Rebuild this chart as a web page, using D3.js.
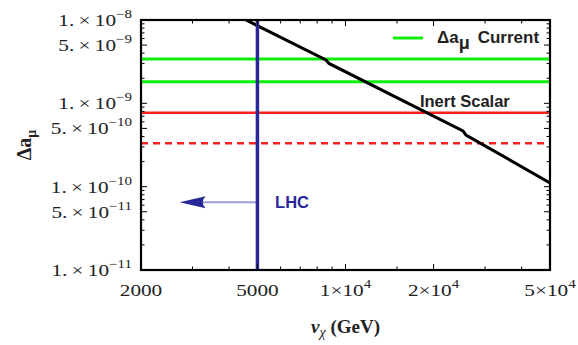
<!DOCTYPE html>
<html>
<head>
<meta charset="utf-8">
<script src="https://cdn.jsdelivr.net/npm/d3@7"></script>
<style>
  body { margin: 0; background: #ffffff; }
  svg { display: block; }
</style>
</head>
<body>
<div id="chart"></div>
<script>
// values
var xTickVals = [2000, 5000, 1e4, 2e4, 5e4];
var xTickMant = ["2000", "5000", "1", "2", "5"];
var xTickExp = [null, null, "4", "4", "4"];
var xMinorVals = [3000, 4000, 6000, 7000, 8000, 9000, 15000, 30000, 40000];

var yTickVals = [1e-8, 5e-9, 1e-9, 5e-10, 1e-10, 5e-11, 1e-11];
var yTickMant = ["1.", "5.", "1.", "5.", "1.", "5.", "1."];
var yTickExp = ["\u22128", "\u22129", "\u22129", "\u221210", "\u221210", "\u221211", "\u221211"];

// black curve (Inert Scalar prediction)
var curveV = [4570, 8576, 8780, 25200, 25800, 50000];
var curveA = [1e-8, 3.31e-9, 3.01e-9, 4.66e-10, 4.17e-10, 1.11e-10];

// horizontal bands
var currentBand = [1.81e-9, 3.41e-9];   // green
var inertSolid = 7.72e-10;              // red solid
var inertDashed = 3.31e-10;             // red dashed

// LHC bound
var lhcBound = 5000;
var lhcArrowTip = 2710;
var lhcArrowA = 6.49e-11;

function createChart() {
    var width = 578, height = 345;
    var margin = { top: 20, right: 28, bottom: 75, left: 141 };
    var w = width - margin.left - margin.right;
    var h = height - margin.top - margin.bottom;

    var svg = d3.select("#chart")
        .html("")
        .append("svg")
        .attr("width", width)
        .attr("height", height);

    var g = svg.append("g")
        .attr("transform", "translate(" + margin.left + "," + margin.top + ")");

    var x = d3.scaleLog().domain([2000, 50000]).range([0, w]);
    var y = d3.scaleLog().domain([1e-11, 1e-8]).range([h, 0]);

    g.append("clipPath").attr("id", "clip")
        .append("rect").attr("width", w).attr("height", h);

    var plot = g.append("g").attr("clip-path", "url(#clip)");

    // green current band lines
    plot.selectAll(".green")
        .data(currentBand)
        .enter().append("line")
        .attr("x1", 0).attr("x2", w)
        .attr("y1", function (d) { return y(d); })
        .attr("y2", function (d) { return y(d); })
        .attr("stroke", "#10ee10")
        .attr("stroke-width", 3);

    // red lines
    plot.append("line")
        .attr("x1", 0).attr("x2", w)
        .attr("y1", y(inertSolid)).attr("y2", y(inertSolid))
        .attr("stroke", "#ff2020").attr("stroke-width", 2.5);
    plot.append("line")
        .attr("x1", 0).attr("x2", w)
        .attr("y1", y(inertDashed)).attr("y2", y(inertDashed))
        .attr("stroke", "#ff2020").attr("stroke-width", 2.5)
        .attr("stroke-dasharray", "7,5");

    // black curve
    var line = d3.line()
        .x(function (d, i) { return x(curveV[i]); })
        .y(function (d) { return y(d); });
    plot.append("path")
        .datum(curveA)
        .attr("d", line)
        .attr("fill", "none")
        .attr("stroke", "#000")
        .attr("stroke-width", 3);

    // LHC arrow
    var navy = "#27279a";
    plot.append("line")
        .attr("x1", x(lhcBound)).attr("x2", x(lhcArrowTip) + 20)
        .attr("y1", y(lhcArrowA)).attr("y2", y(lhcArrowA))
        .attr("stroke", "#9c9cd8").attr("stroke-width", 2);
    var tx = x(lhcArrowTip), ty = y(lhcArrowA);
    plot.append("path")
        .attr("d", "M" + tx + "," + ty +
            " L" + (tx + 26) + "," + (ty - 6) +
            " Q" + (tx + 20) + "," + ty + " " + (tx + 26) + "," + (ty + 6) + " Z")
        .attr("fill", navy);

    // LHC vertical bound
    plot.append("line")
        .attr("x1", x(lhcBound)).attr("x2", x(lhcBound))
        .attr("y1", 0).attr("y2", h)
        .attr("stroke", navy).attr("stroke-width", 3.5);

    g.append("text")
        .attr("x", x(5746)).attr("y", y(lhcArrowA) + 5.5)
        .attr("font-family", "Liberation Sans, Arial, sans-serif")
        .attr("font-weight", "bold").attr("font-size", 16.5)
        .attr("fill", navy)
        .text("LHC");

    g.append("text")
        .attr("x", x(17960)).attr("y", y(9.04e-10))
        .attr("font-family", "Liberation Sans, Arial, sans-serif")
        .attr("font-weight", "bold").attr("font-size", 16.5)
        .attr("fill", "#222")
        .text("Inert Scalar");

    // legend
    var leg = g.append("g").attr("transform", "translate(252,18)");
    leg.append("line")
        .attr("x1", 0).attr("x2", 30).attr("y1", 0).attr("y2", 0)
        .attr("stroke", "#10ee10").attr("stroke-width", 3);
    var lt = leg.append("text")
        .attr("x", 44).attr("y", 5)
        .attr("font-family", "Liberation Sans, Arial, sans-serif")
        .attr("font-weight", "bold").attr("font-size", 17)
        .attr("fill", "#222");
    lt.append("tspan").text("\u0394a");
    lt.append("tspan").attr("dy", 6).attr("font-size", 18).text("\u03bc");
    lt.append("tspan").attr("dy", -6).attr("dx", 8).text("Current");

    // ticks on all four sides
    var yMinor = [];
    [-11, -10, -9].forEach(function (e) {
        for (var m = 2; m <= 9; m++) {
            if (m !== 5) yMinor.push(m * Math.pow(10, e));
        }
    });
    var ticks = g.append("g").attr("stroke", "#000").attr("stroke-width", 1);
    function hTick(val, len) {
        ticks.append("line").attr("x1", 0).attr("x2", len).attr("y1", y(val)).attr("y2", y(val));
        ticks.append("line").attr("x1", w).attr("x2", w - len).attr("y1", y(val)).attr("y2", y(val));
    }
    function vTick(val, len) {
        ticks.append("line").attr("y1", h).attr("y2", h - len).attr("x1", x(val)).attr("x2", x(val));
        ticks.append("line").attr("y1", 0).attr("y2", len).attr("x1", x(val)).attr("x2", x(val));
    }
    yTickVals.forEach(function (v) { hTick(v, 6); });
    yMinor.forEach(function (v) { hTick(v, 3.5); });
    xTickVals.forEach(function (v) { vTick(v, 6); });
    xMinorVals.forEach(function (v) { vTick(v, 3.5); });

    // frame
    g.append("rect")
        .attr("width", w).attr("height", h)
        .attr("fill", "none").attr("stroke", "#000").attr("stroke-width", 2.2);

    // tick labels
    var serif = "Liberation Serif, Times New Roman, serif";
    yTickVals.forEach(function (v, i) {
        var lg = g.append("g")
            .attr("transform", "translate(-9," + (y(v) + 6) + ") scale(1.25,1)");
        var t = lg.append("text")
            .attr("text-anchor", "end")
            .attr("font-family", serif).attr("font-size", 17)
            .attr("fill", "#222");
        t.append("tspan").text(yTickMant[i] + "\u2009\u00d7\u2009" + "10");
        t.append("tspan").attr("dy", -8).attr("font-size", 12).text(yTickExp[i]);
    });
    xTickVals.forEach(function (v, i) {
        var lg = g.append("g")
            .attr("transform", "translate(" + x(v) + "," + (h + 26) + ") scale(1.25,1)");
        var t = lg.append("text")
            .attr("text-anchor", "middle")
            .attr("font-family", serif).attr("font-size", 17)
            .attr("fill", "#222");
        if (xTickExp[i]) {
            t.append("tspan").text(xTickMant[i] + "\u00d7" + "10");
            t.append("tspan").attr("dy", -8).attr("font-size", 12).text(xTickExp[i]);
        } else {
            t.text(xTickMant[i]);
        }
    });

    // axis titles
    var xt = g.append("text")
        .attr("x", w / 2).attr("y", h + 63)
        .attr("text-anchor", "middle")
        .attr("font-family", serif).attr("font-weight", "bold").attr("font-size", 19)
        .attr("fill", "#222");
    xt.append("tspan").attr("font-style", "italic").text("v");
    xt.append("tspan").attr("dy", 4).attr("font-size", 14).attr("font-style", "italic").attr("font-weight", "normal").text("\u03c7");
    xt.append("tspan").attr("dy", -4).text(" (GeV)");

    var yt = g.append("text")
        .attr("transform", "translate(" + (-110) + "," + (h / 2) + ") rotate(-90)")
        .attr("text-anchor", "middle")
        .attr("font-family", serif).attr("font-weight", "bold").attr("font-size", 20)
        .attr("fill", "#222");
    yt.append("tspan").text("\u0394a");
    yt.append("tspan").attr("dy", 5).attr("font-size", 14).text("\u03bc");
}

createChart();
</script>
</body>
</html>
